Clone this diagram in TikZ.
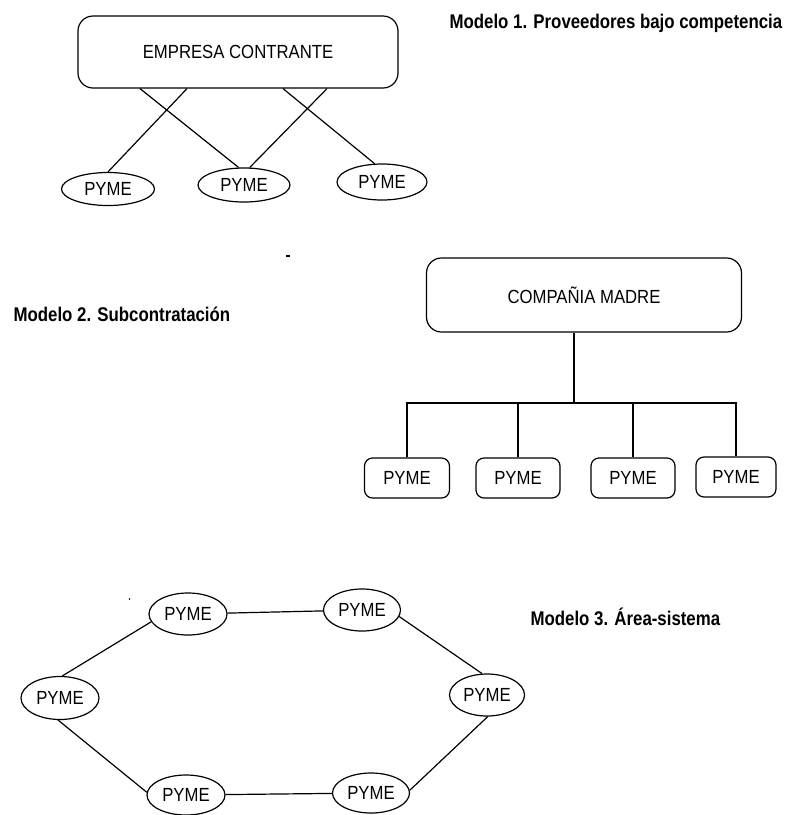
\documentclass[tikz,border=0pt]{standalone}
\usepackage{fontspec}
\setmainfont{Liberation Sans}
\newfontfamily\titlefont[FakeStretch=0.85]{Liberation Sans}
\newfontfamily\nodefont[FakeStretch=0.88]{Liberation Sans}
\usetikzlibrary{shapes.geometric}
\begin{document}
\begin{tikzpicture}[x=1pt,y=-1pt,
  every path/.style={line width=1.2pt},
  ttl/.style={anchor=west,inner sep=0pt,font=\titlefont\bfseries\fontsize{19.8}{22}\selectfont},
  bigbox/.style={draw,rounded corners=15pt,inner sep=0pt,font=\nodefont\fontsize{19}{22}\selectfont},
  pbox/.style={draw,rounded corners=8pt,inner sep=0pt,minimum height=40pt,font=\nodefont\fontsize{19}{22}\selectfont},
  pell/.style={draw,ellipse,inner sep=0pt,font=\nodefont\fontsize{19}{22}\selectfont}]
\useasboundingbox (0,0) rectangle (786,815);

% ---------- Modelo 1 ----------
\node[ttl] (t1) at (449,23) {Modelo 1. Proveedores bajo competencia};
\node[bigbox,minimum width=320pt,minimum height=72pt] (emp) at (238,52) {EMPRESA CONTRANTE};
\node[pell,minimum width=93pt,minimum height=33pt] (p1) at (108,189) {PYME};
\node[pell,minimum width=92pt,minimum height=34pt] (p2) at (244,185) {PYME};
\node[pell,minimum width=90pt,minimum height=36pt] (p3) at (382,182) {PYME};
\coordinate (a1) at (140,88);
\coordinate (a2) at (187,88);
\coordinate (a3) at (283,88);
\coordinate (a4) at (327,88);
\draw (emp.south -| a1) -- (p2.107);
\draw (emp.south -| a2) -- (p1.north);
\draw (emp.south -| a3) -- (p3.112);
\draw (emp.south -| a4) -- (p2.72);

% ---------- Modelo 2 ----------
\node[ttl] (t2) at (13,314) {Modelo 2. Subcontratación};
\node[bigbox,minimum width=315pt,minimum height=74pt] (cm) at (584,295) {COMPAÑIA MADRE};
\node[pbox,minimum width=85pt] (q1) at (407,478) {PYME};
\node[pbox,minimum width=84pt] (q2) at (518,478) {PYME};
\node[pbox,minimum width=84pt] (q3) at (633,478) {PYME};
\node[pbox,minimum width=80pt] (q4) at (736,477) {PYME};
\coordinate (j) at (574,403);
\draw (cm.south -| j) -- (j);
\draw (q1.north) |- (j) -| (q4.north);
\draw (q2.north) -- (q2.north |- j);
\draw (q3.north) -- (q3.north |- j);
\draw (286,256) -- (290,256);

% ---------- Modelo 3 ----------
\node[ttl] (t3) at (530,617) {Modelo 3. Área-sistema};
\node[pell,minimum width=78pt,minimum height=42pt] (r1) at (188,614) {PYME};
\node[pell,minimum width=77pt,minimum height=42pt] (r2) at (362,610) {PYME};
\node[pell,minimum width=78pt,minimum height=43pt] (r3) at (60,698) {PYME};
\node[pell,minimum width=75pt,minimum height=42pt] (r4) at (487,695) {PYME};
\node[pell,minimum width=78pt,minimum height=40pt] (r5) at (186,795) {PYME};
\node[pell,minimum width=77pt,minimum height=40pt] (r6) at (371,793) {PYME};
\draw (r1) -- (r2);
\draw (r5) -- (r6);
\draw (r1.192) -- (r3.84);
\draw (r3.265) -- (r5.176);
\draw (r2.350) -- (r4.103);
\draw (r4.272) -- (r6.4);
\fill (129.5,599) circle (0.8pt);
\end{tikzpicture}
\end{document}
